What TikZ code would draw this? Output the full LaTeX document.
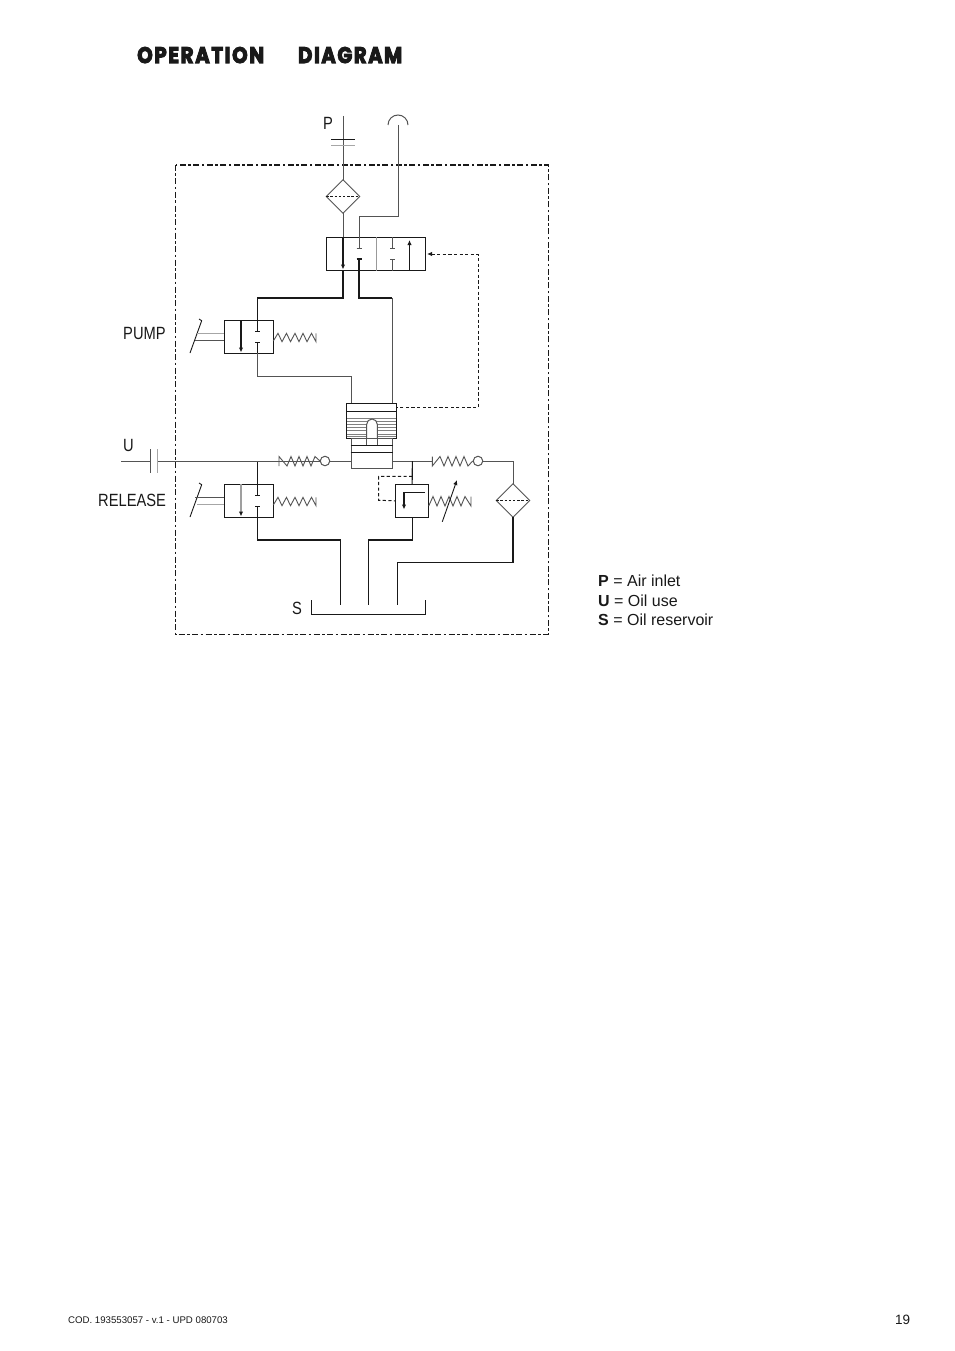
\documentclass[tikz,border=0pt]{standalone}
\usepackage{fontspec}
\usepackage{graphicx}
\usetikzlibrary{arrows.meta,shapes.geometric}
\setmainfont{Liberation Sans}
\newfontfamily\narrowfont[FakeStretch=0.83]{Liberation Sans}
\newfontfamily\titlefont[LetterSpace=8,FakeBold=4.5]{Poppins}
\definecolor{ink}{gray}{0.1}
\definecolor{soft}{gray}{0.33}
\tikzset{
  pipe/.style={draw=ink,line width=1.05pt},
  thin pipe/.style={draw=soft,line width=1pt},
  box/.style={draw=ink,line width=1.1pt,fill=white,inner sep=0pt,outer sep=0pt,minimum width=#1,minimum height=33pt},
  filterd/.style={draw=soft,line width=1pt,fill=white,diamond,aspect=1,inner sep=0pt,outer sep=0pt,minimum width=33.5pt,minimum height=33.5pt},
  dashpipe/.style={draw=ink,line width=1pt,dash pattern=on 3.2pt off 2.4pt},
  frame/.style={draw=ink,line width=1.05pt,dash pattern=on 6pt off 2.5pt on 2.5pt off 2.5pt},
  tip/.style={-{Latex[length=5pt,width=4.4pt,color=ink,fill=ink]}},
  coil/.style={draw=soft,line width=0.9pt,line join=miter},
  check/.style={draw=soft,line width=1pt,fill=white,circle,inner sep=0pt,minimum size=9.5pt},
  lab/.style={font=\narrowfont\fontsize{17.7}{17.7}\selectfont,anchor=base west,inner sep=0pt,text=ink},
  legend/.style={font=\fontsize{16}{16}\selectfont,anchor=base west,inner sep=0pt,text=ink},
}
\begin{document}
\begin{tikzpicture}[x=1pt,y=-1pt]
\useasboundingbox[fill=white] (0,0) rectangle (954,1351);

% title
\node[anchor=base west,inner sep=0pt,text=ink] (title) at (137,63) {\resizebox{127pt}{16pt}{\titlefont\bfseries OPERATION}};
\node[anchor=base west,inner sep=0pt,text=ink] (title2) at (298,63) {\resizebox{104pt}{16pt}{\titlefont\bfseries DIAGRAM}};

% frame
\draw[frame] (175.5,165) rectangle (548.3,634.3);

% main elements
\node[filterd] (f1) at (343,196.5) {};
\node[filterd] (f2) at (513,500.5) {};
\draw[dashpipe,dash pattern=on 2.4pt off 1.8pt] (f1.west) -- (f1.east);
\draw[dashpipe,dash pattern=on 2.4pt off 1.8pt] (f2.west) -- (f2.east);

\node[box=99.4pt] (dv) at (376,254) {};
\node[box=49pt] (pv) at (248.8,336.8) {};
\node[box=49pt] (rv) at (248.8,500.8) {};
\node[box=33pt] (mv) at (412.2,500.8) {};

% ports
\coordinate (Ptop) at (343,116);
\coordinate (Utop) at (398,125);
\coordinate (a) at (359,216);
\coordinate (b) at (398,216);
\coordinate (d1) at (343,298);
\coordinate (d2) at (257.5,298);
\coordinate (e1) at (359,298);
\coordinate (e2) at (392.3,298);
\coordinate (e3) at (392.3,403.3);
\coordinate (g1) at (257.5,376.3);
\coordinate (g2) at (351,376.3);
\coordinate (g3) at (351,403.3);

% air lines
\draw[thin pipe] (Ptop) -- (f1.north);
\draw[thin pipe] (f1.south) -- (343,237.3);
\draw[pipe,tip] (343,237.3) -- (343,269.5);
\draw[pipe] (343,270.7) -- (d1) -- (d2) -- (257.5,320.3);
\draw[thin pipe] (388,125) arc (180:360:10);
\draw[thin pipe] (Utop) -- (b) -- (a) -- (359,248);
\draw[thin pipe] (356.5,248) -- (361.5,248);
\draw[pipe] (356.5,259) -- (361.5,259);
\draw[pipe] (359,259) -- (e1) -- (e2);
\draw[thin pipe] (e2) -- (e3);
\draw[thin pipe,draw=gray!80] (376,237.3) -- (376,270.7);
\draw[thin pipe] (392.7,237.3) -- (392.7,248) (390.2,248) -- (395.2,248);
\draw[thin pipe] (392.7,270.7) -- (392.7,259) (390.2,259) -- (395.2,259);
\draw[pipe,tip] (409.5,270.7) -- (409.5,240);
\draw[line width=1pt,draw=ink,dash pattern=on 3.2pt off 2.4pt,{Latex[length=5pt,width=4.4pt]}-] (427,254) -- (478,254) -- (478,407.3) -- (397,407.3);

% pump valve
\draw[pipe,tip] (241,320.3) -- (241,352.5);
\draw[pipe] (257.5,320.3) -- (257.5,331.7) (255,331.7) -- (260,331.7);
\draw[pipe] (257.5,353.3) -- (257.5,342.3) (255,342.3) -- (260,342.3);
\draw[thin pipe] (257.5,353.3) -- (g1) -- (g2) -- (g3);
\coordinate (L1) at (190,353);
\draw[pipe,line width=0.9pt] (L1) -- (201.7,320.7) -- (199,319);
\draw[thin pipe,draw=gray!70] (197,333.3) -- (224.3,333.3);
\draw[thin pipe] (195,340.7) -- (224.3,340.7);
\draw[coil] (273.3,341) -- (278,333.3) -- (282,341.7) -- (286.5,333.3) -- (290.5,341.7) -- (295,333.3) -- (299,341.7) -- (303,333.3) -- (307,341.7) -- (311.5,333.3) -- (316,341.7) -- (316,333.3);

% release valve
\draw[thin pipe,draw=gray!75,line width=1.2pt,tip] (241,484.3) -- (241,516.5);
\draw[pipe] (257.5,461) -- (257.5,495.3) (255,495.3) -- (260,495.3);
\draw[pipe] (257.5,517.3) -- (257.5,506.3) (255,506.3) -- (260,506.3);
\draw[pipe] (257.5,517.3) -- (257.5,540) -- (340.7,540) -- (340.7,604.7);
\coordinate (L2) at (190,517);
\draw[pipe,line width=0.9pt] (L2) -- (201.7,484.7) -- (199,483);
\draw[thin pipe] (195,497.3) -- (224.3,497.3);
\draw[thin pipe,draw=gray!70] (197,504) -- (224.3,504);
\draw[coil] (273.3,505) -- (278,497.3) -- (282,505.7) -- (286.5,497.3) -- (290.5,505.7) -- (295,497.3) -- (299,505.7) -- (303,497.3) -- (307,505.7) -- (311.5,497.3) -- (316,505.7) -- (316,497.3);

% U line
\coordinate (Ustart) at (121,461);
\draw[thin pipe] (Ustart) -- (150.7,461);
\draw[thin pipe] (157.3,461) -- (351,461);
\draw[thin pipe] (150.7,449) -- (150.7,473);
\draw[thin pipe,draw=gray!70] (157.3,449) -- (157.3,473);
\draw[coil] (279,466) -- (279,456.5) -- (287,466) -- (291,456.5) -- (295,466) -- (299,456.5) -- (303,466) -- (307,456.5) -- (311,466) -- (315,456.5) -- (320,461);
\node[check] (c1) at (325,461) {};

% cylinder
\draw[draw=gray,line width=0.85pt] (346.7,418.3) -- (396.7,418.3) (346.7,421.7) -- (396.7,421.7) (346.7,424.3) -- (396.7,424.3) (346.7,427.7) -- (396.7,427.7) (346.7,430.7) -- (396.7,430.7) (346.7,434) -- (396.7,434) (346.7,436) -- (396.7,436);
\node[draw=ink,line width=1pt,inner sep=0pt,minimum width=50pt,minimum height=35pt] (cyl) at (371.7,420.8) {};
\draw[pipe,line width=0.95pt] (cyl.west |- 0,411.7) -- (cyl.east |- 0,411.7);
\draw[fill=white,draw=soft,line width=1pt] (366.7,445.5) -- (366.7,424.3) arc (180:360:5.3) -- (377.3,445.5);
\node[draw=soft,line width=1pt,inner sep=0pt,minimum width=41.3pt,minimum height=30pt,fill=white] (low) at (371.7,453.3) {};
\draw[thin pipe] (366.7,438.3) -- (366.7,445.5) (377.3,438.3) -- (377.3,445.5);
\draw[pipe,line width=0.95pt] (low.west |- 0,445.7) -- (low.east |- 0,445.7);
\draw[pipe,line width=1.25pt] (low.west |- 0,452.3) -- (low.east |- 0,452.3);

% right side
\draw[thin pipe] (low.east |- 0,461) -- (432.3,461);
\draw[pipe] (412.3,461) -- (mv.north);
\draw[dashpipe] (412.3,476.3) -- (378.7,476.3) -- (378.7,500.3) -- (mv.west);
\draw[pipe] (mv.south) -- (mv.south |- 0,540) -- (368.3,540) -- (368.3,604.7);
\draw[pipe,tip] (425,492.3) -- (404,492.3) -- (404,509.5);
\draw[coil] (428.7,506) -- (433,496.5) -- (437,506) -- (441,496.5) -- (445,506) -- (449,496.5) -- (453,506) -- (457,496.5) -- (461,506) -- (465,496.5) -- (471,506) -- (471,496.5);
\draw[pipe,line width=0.9pt,tip] (442.3,521.7) -- (457,480);
\draw[coil] (432.3,456.5) -- (432.3,466) -- (440,456.5) -- (444,466) -- (448,456.5) -- (452,466) -- (456,456.5) -- (460,466) -- (464,456.5) -- (468,466) -- (472.7,461);
\node[check] (c2) at (478,461) {};
\draw[thin pipe] (c2.east) -- (f2.north |- 0,461) -- (f2.north);
\draw[pipe] (f2.south) -- (f2.south |- 0,562.3) -- (397.3,562.3) -- (397.3,604.7);

% P caps
\draw[pipe] (331,139.3) -- (355,139.3);
\draw[thin pipe,draw=gray!70] (331,146) -- (355,146);

% tank
\draw[pipe] (311.3,600) -- (311.3,614.3) -- (425.7,614.3) -- (425.7,600);

% labels
\node[lab] (lp) at (323,129.5) {P};
\node[lab] (lpump) at (123,339.3) {PUMP};
\node[lab] (lu) at (123,451.7) {U};
\node[lab] (lrel) at (98,506.7) {RELEASE};
\node[lab] (ls) at (292,614) {S};
\node[legend] (l1) at (598,586) {\textbf{P} = Air inlet};
\node[legend] (l2) at (598,606) {\textbf{U} = Oil use};
\node[legend] (l3) at (598,625) {\textbf{S} = Oil reservoir};
\node[anchor=base west,inner sep=0pt,text=ink,font=\fontsize{9.65}{10}\selectfont] (foot) at (68,1323) {COD. 193553057 - v.1 - UPD 080703};
\node[anchor=base west,inner sep=0pt,text=ink,font=\fontsize{13.5}{13.5}\selectfont] (page) at (895,1324) {19};
\end{tikzpicture}
\end{document}
